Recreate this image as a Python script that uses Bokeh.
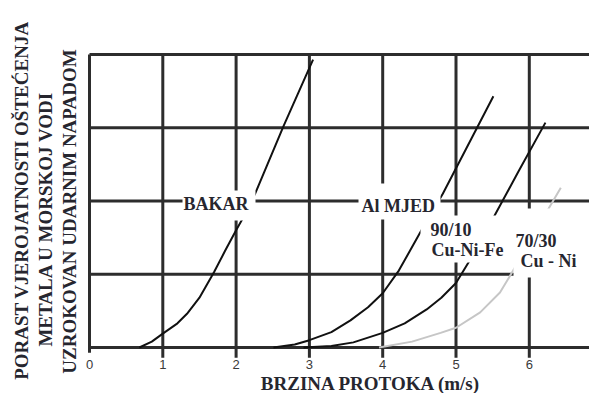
import numpy as np
from bokeh.plotting import figure
from bokeh.models import Range1d
from bokeh.core.properties import value
from bokeh.embed import file_html
from bokeh.resources import INLINE

# ---------------- data ----------------
x_ticks = [0, 1, 2, 3, 4, 5, 6]
tick_labels = ["0", "1", "2", "3", "4", "5", "6"]
y_levels = [0, 1, 2, 3, 4]

bakar_x = [0.68, 0.85, 1.0, 1.2, 1.33, 1.5, 1.7, 1.85, 2.0, 2.09, 2.26, 2.65, 3.05]
bakar_y = [0.0, 0.08, 0.19, 0.33, 0.46, 0.68, 1.03, 1.32, 1.60, 1.76, 2.10, 3.03, 3.93]

almjed_x = [2.51, 2.8, 3.0, 3.3, 3.56, 3.8, 4.0, 4.22, 4.54, 4.82, 5.51]
almjed_y = [0.0, 0.04, 0.10, 0.21, 0.37, 0.55, 0.74, 1.05, 1.62, 2.10, 3.43]

cunife_x = [2.92, 3.3, 3.6, 4.0, 4.3, 4.6, 4.8, 5.0, 5.17, 5.51, 5.85, 6.22]
cunife_y = [0.0, 0.02, 0.07, 0.20, 0.33, 0.52, 0.68, 0.88, 1.16, 1.77, 2.40, 3.07]

cuni_x = [3.95, 4.4, 4.79, 5.0, 5.33, 5.6, 5.78, 6.13, 6.43]
cuni_y = [0.0, 0.08, 0.20, 0.27, 0.48, 0.75, 1.05, 1.67, 2.18]

y_title = ["PORAST VJEROJATNOSTI OŠTEĆENJA",
           "METALA U MORSKOJ VODI",
           "UZROKOVAN UDARNIM NAPADOM"]
x_title = "BRZINA PROTOKA (m/s)"
curve_labels = ["BAKAR", "Al MJED", "90/10", "Cu-Ni-Fe", "70/30", "Cu - Ni"]

# ---------------- figure ----------------
W, H = 589, 393
PX = 73.3   # px per x unit
PY = 73.25  # px per y unit
X0, Y0 = 89, 347  # screen position of data origin
x_start, x_end = -X0 / PX, (W - X0) / PX
y_start, y_end = -(H - Y0) / PY, Y0 / PY

p = figure(width=W, height=H, output_backend="svg", toolbar_location=None,
           x_range=Range1d(x_start, x_end), y_range=Range1d(y_start, y_end),
           min_border=0)
p.xaxis.visible = False
p.yaxis.visible = False
p.grid.visible = False
p.outline_line_color = None
p.background_fill_color = "white"
p.border_fill_color = "white"

grid_col = "#2d2d2d"
# horizontal lines
p.segment(x0=[0] * len(y_levels), x1=[x_end] * len(y_levels),
          y0=y_levels, y1=y_levels, line_color=grid_col, line_width=3)
# vertical lines
p.segment(x0=x_ticks, x1=x_ticks,
          y0=[-0.07] + [-0.14] * (len(x_ticks) - 1),
          y1=[y_levels[-1]] * len(x_ticks), line_color=grid_col, line_width=3)

# curves
p.line(cuni_x, cuni_y, line_color="#c6c6c6", line_width=2)
p.line(bakar_x, bakar_y, line_color="#111111", line_width=2)
p.line(almjed_x, almjed_y, line_color="#111111", line_width=2)
p.line(cunife_x, cunife_y, line_color="#111111", line_width=2)

# white label backgrounds
def sx(px):
    return (px - X0) / PX

def sy(py):
    return (Y0 - py) / PY

boxes = [(182, 255, 190, 220), (358, 440, 183, 219),
         (420, 508, 215, 262), (513, 610, 208, 277)]
p.quad(left=[sx(b[0]) for b in boxes], right=[sx(b[1]) for b in boxes],
       top=[sy(b[2]) for b in boxes], bottom=[sy(b[3]) for b in boxes],
       fill_color="white", line_color=None)

txt_col = "#26262f"
serif = value("Liberation Serif")

# curve labels (left x, vertical centre in image px)
lab_pos = [(183, 203.5), (361, 205), (430, 229.5), (431, 249), (515, 240), (520, 260)]
p.text(x=[sx(a) for a, b in lab_pos], y=[sy(b) for a, b in lab_pos], text=curve_labels,
       text_font=serif, text_font_style="bold", text_font_size="18px",
       text_color=txt_col, text_align="left", text_baseline="middle")

# tick labels
p.text(x=x_ticks, y=[sy(364)] * len(x_ticks), text=tick_labels,
       text_font=value("Liberation Sans"), text_font_size="13px",
       text_color="#3a3a3a", text_align="center", text_baseline="middle")

# x title
p.text(x=[sx(370.5)], y=[sy(383)], text=[x_title], text_font=serif,
       text_font_style="bold", text_font_size="19px", text_color=txt_col,
       text_align="center", text_baseline="middle")

# y title (rotated)
yt_pos = [(21, 200), (44.5, 218.5), (68.5, 211)]
p.text(x=[sx(a) for a, b in yt_pos], y=[sy(b) for a, b in yt_pos], text=y_title,
       angle=np.pi / 2, text_font=serif, text_font_style="bold",
       text_font_size="19px", text_color=txt_col,
       text_align="center", text_baseline="middle")

open("out.html", "w").write(file_html(p, INLINE))
